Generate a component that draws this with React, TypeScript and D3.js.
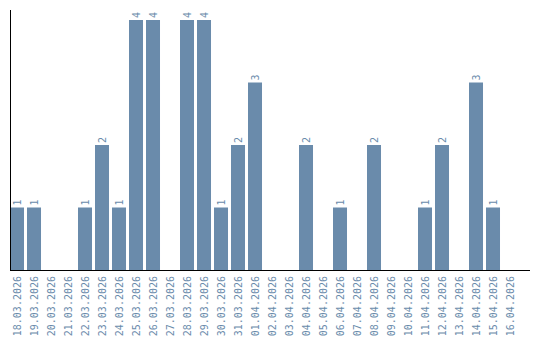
import React from "react";
import * as d3 from "d3";

const dates = [
  "18.03.2026","19.03.2026","20.03.2026","21.03.2026","22.03.2026","23.03.2026",
  "24.03.2026","25.03.2026","26.03.2026","27.03.2026","28.03.2026","29.03.2026",
  "30.03.2026","31.03.2026","01.04.2026","02.04.2026","03.04.2026","04.04.2026",
  "05.04.2026","06.04.2026","07.04.2026","08.04.2026","09.04.2026","10.04.2026",
  "11.04.2026","12.04.2026","13.04.2026","14.04.2026","15.04.2026","16.04.2026",
];
const counts = [1,1,0,0,1,2,1,4,4,0,4,4,1,2,3,0,0,2,0,1,0,2,0,0,1,2,0,3,1,0];

const W = 540, H = 340;
const left = 10, right = 520, axisRight = 530, top = 20, bottom = 270;
const color = "#6a8bab";

export default function App() {
  const x = d3.scaleBand<string>().domain(dates).range([left, right])
    .paddingInner(0.176).paddingOuter(0.088).align(0);
  const y = d3.scaleLinear().domain([0, d3.max(counts) as number]).range([bottom, top]);
  const bw = x.bandwidth();
  return (
    <svg width={W} height={H} style={{ position: "absolute", left: 0, top: 0 }}
      fontFamily="DejaVu Sans Mono">
      {dates.map((d, i) => counts[i] > 0 ? (
        <rect key={d} x={x(d)} y={y(counts[i])} width={bw} height={bottom - y(counts[i])} fill={color} />
      ) : null)}
      {dates.map((d, i) => counts[i] > 0 ? (
        <text key={"v" + d} transform={`translate(${(x(d) as number) + bw / 2 + 3.5},${y(counts[i]) - 2}) rotate(-90)`}
          fontSize={10} fill={color}>{counts[i]}</text>
      ) : null)}
      <line x1={left + 0.5} x2={left + 0.5} y1={10} y2={bottom} stroke="#000" />
      <line x1={left} x2={axisRight} y1={bottom + 0.5} y2={bottom + 0.5} stroke="#000" />
      {dates.map((d) => (
        <text key={"t" + d} transform={`translate(${(x(d) as number) + bw / 2 + 3.5},${bottom + 6}) rotate(-90)`}
          fontSize={10} fill={color} textAnchor="end">{d}</text>
      ))}
    </svg>
  );
}
